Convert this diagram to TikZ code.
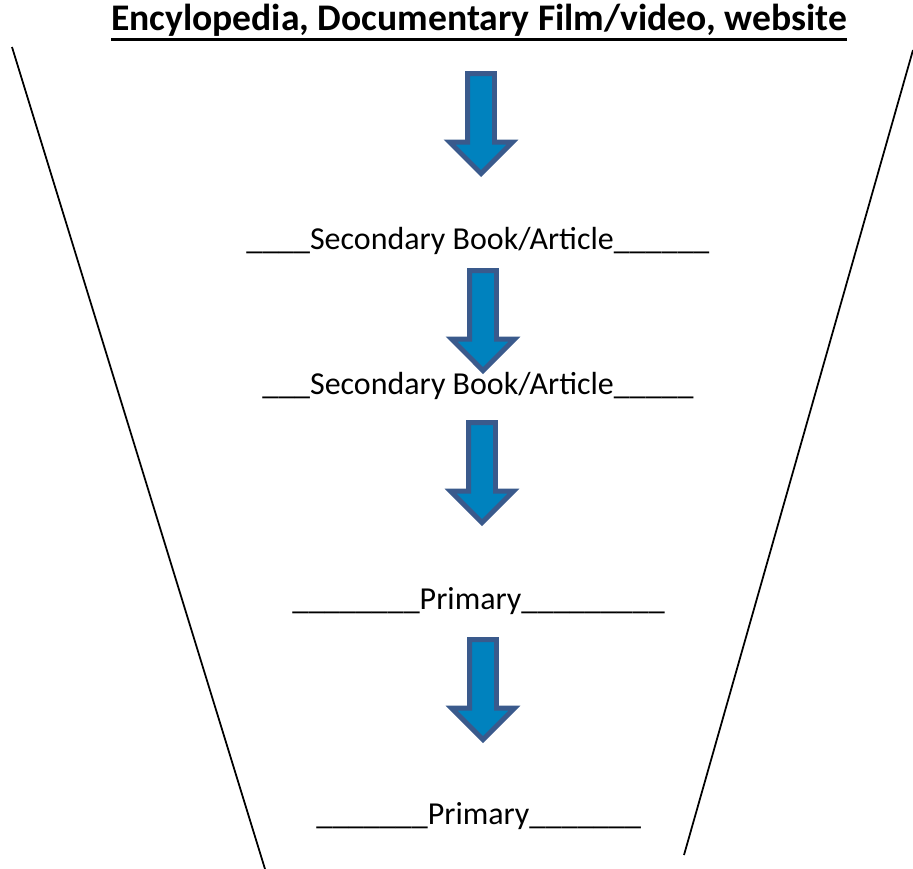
\documentclass[tikz,border=0pt]{standalone}
\usepackage{fontspec}
\setmainfont{Carlito}
\usetikzlibrary{shapes.arrows}

\definecolor{arrowfill}{RGB}{0,130,190}
\definecolor{arrowedge}{RGB}{58,90,140}

% thick underline for the heading
\newcommand{\headul}[1]{\setbox0\hbox{#1}\rlap{\rule[-6pt]{\wd0}{1.7pt}}\box0}

\begin{document}
\begin{tikzpicture}[
      x=0.02cm, y=-0.02cm,
      heading/.style={font=\fontsize{21.4pt}{25pt}\selectfont\bfseries, inner sep=0pt, anchor=base},
      textline/.style={font=\fontsize{18.2pt}{22pt}\selectfont, inner sep=0pt, anchor=base west},
      downarrow/.style={single arrow, shape border rotate=270, draw=arrowedge, fill=arrowfill,
        line width=2.8pt, minimum height=2cm, inner sep=0.22cm, anchor=tip,
        single arrow head extend=0.36cm, single arrow tip angle=90},
      funnel/.style={line width=1pt}
    ]
      \useasboundingbox (0,0) rectangle (913,869);

      % Funnel sides
      \draw[funnel] (12,47) -- (265,869);
      \draw[funnel] (913,50) -- (684,855);

      % Nodes
      \node[heading] (title) at (479,30) {\headul{Encylopedia, Documentary Film/video, website}};
      \node[textline] (sec1) at (246,249) {\_\_\_\_Secondary Book/Article\_\_\_\_\_\_};
      \node[textline] (sec2) at (262,394) {\_\_\_Secondary Book/Article\_\_\_\_\_};
      \node[textline] (prim1) at (292,609) {\_\_\_\_\_\_\_\_Primary\_\_\_\_\_\_\_\_\_};
      \node[textline] (prim2) at (316,824) {\_\_\_\_\_\_\_Primary\_\_\_\_\_\_\_};

      % Arrows
      \node[downarrow] (arr1) at (481,177) {};
      \node[downarrow] (arr2) at (483,374) {};
      \node[downarrow] (arr3) at (482,526) {};
      \node[downarrow] (arr4) at (483,743) {};

    \end{tikzpicture}
\end{document}
